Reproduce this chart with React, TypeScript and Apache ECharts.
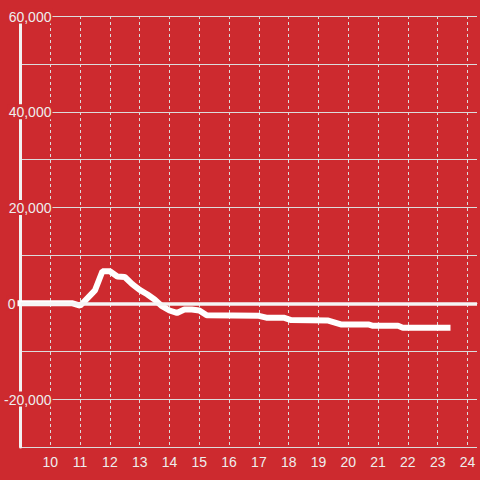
import React, { useEffect, useRef } from "react";
import * as echarts from "echarts";

const hours = [
  9, 10.75, 11, 11.25, 11.5, 11.75, 12, 12.25, 12.5, 12.75, 13, 13.25, 13.5,
  13.75, 14, 14.25, 14.5, 14.75, 15, 15.25, 17, 17.25, 17.83, 18.08, 19.33,
  19.75, 20.67, 20.83, 21.67, 21.83, 23.33,
];
const values = [
  0, 0, -500, 1100, 2700, 6700, 6700, 5600, 5500, 4000, 2800, 1900, 800,
  -600, -1500, -2000, -1300, -1300, -1500, -2500, -2600, -3000, -3000, -3500,
  -3600, -4400, -4400, -4700, -4700, -5100, -5100,
];
const yMin = -30000;
const yMax = 60000;
const yStep = 10000;
const xMin = 9;
const xMax = 24.32;

const RED = "#cd2a2f";
const GRID = "#dcdcdc";
const TEXT = "#eeeeee";

export default function App() {
  const ref = useRef<HTMLDivElement>(null);
  useEffect(() => {
    if (!ref.current) return;
    const chart = echarts.init(ref.current, undefined, { renderer: "svg" });
    const data = hours.map((h, i) => [h, values[i]]);
    chart.setOption({
      animation: false,
      backgroundColor: RED,
      grid: { left: 20, right: 0, top: 16, bottom: 33 },
      xAxis: {
        type: "value",
        min: xMin,
        max: xMax,
        interval: 1,
        axisLine: { show: true, lineStyle: { color: GRID, width: 1 } },
        axisTick: { show: false },
        axisLabel: {
          color: TEXT,
          fontSize: 14,
          fontFamily: "Liberation Sans, Arial, sans-serif",
          margin: 8,
          formatter: (v: number) =>
            Number.isInteger(v) && v > xMin ? String(v) : "",
        },
        splitLine: {
          show: true,
          showMinLine: false,
          showMaxLine: false,
          lineStyle: { color: GRID, width: 1, type: [3, 3] },
        },
      },
      yAxis: [
        {
          type: "value",
          min: yMin,
          max: yMax,
          interval: yStep,
          position: "left",
          axisLine: { show: true, onZero: false, lineStyle: { color: "#f2f2f2", width: 3 } },
          axisTick: { show: false },
          axisLabel: { show: false },
          splitLine: { show: true, lineStyle: { color: GRID, width: 1 } },
        },
        {
          type: "value",
          min: yMin,
          max: yMax,
          interval: yStep,
          position: "left",
          z: 10,
          axisLine: { show: false },
          axisTick: { show: false },
          splitLine: { show: false },
          axisLabel: {
            show: true,
            align: "right",
            margin: -32,
            formatter: (v: number) => {
              if (v % 20000 !== 0) return "";
              const s = v.toLocaleString("en-US");
              return v === 0 ? `{bg|${s}}{sp| }` : `{bg|${s}}`;
            },
            rich: {
              bg: {
                backgroundColor: RED,
                color: TEXT,
                fontSize: 14,
                fontFamily: "Liberation Sans, Arial, sans-serif",
                padding: [1, 1, 0, 1],
              },
              sp: { width: 36 },
            },
          },
        },
      ],
      series: [
        {
          type: "line",
          xAxisIndex: 0,
          yAxisIndex: 0,
          data,
          showSymbol: false,
          symbol: "none",
          lineStyle: { color: "#ffffff", width: 6, cap: "square" },
          markLine: {
            silent: true,
            symbol: ["none", "none"],
            label: { show: false },
            lineStyle: { color: "#f5f5f5", width: 3.5, type: "solid" },
            data: [{ yAxis: 0 }],
          },
          z: 3,
        },
      ],
    });
    return () => chart.dispose();
  }, []);
  return (
    <div
      ref={ref}
      style={{ position: "fixed", left: 0, top: 0, width: 480, height: 480 }}
    />
  );
}
